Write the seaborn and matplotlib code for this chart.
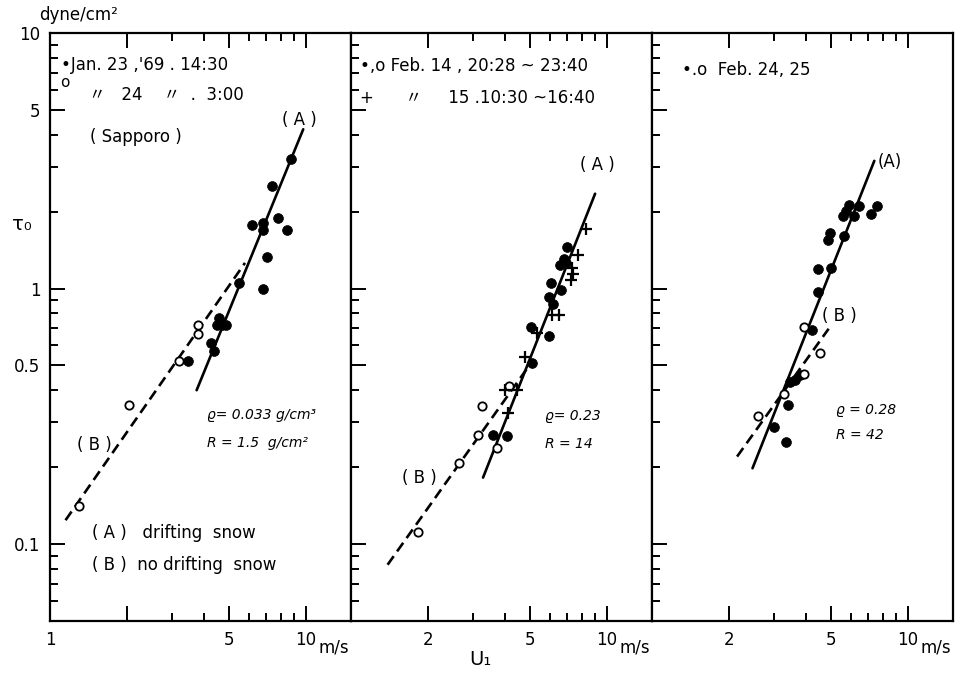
import matplotlib
matplotlib.use("Agg")
import matplotlib.pyplot as plt
from matplotlib.ticker import FixedLocator, FixedFormatter, NullFormatter
import seaborn as sns

# ---- data (U1 in m/s, tau0 in dyne/cm2) ----
# panel 1: Jan. 23-24 '69, Sapporo
p1_fill_u = [8.71, 7.34, 6.17, 6.81, 6.81, 7.79, 8.41, 7.02, 5.47, 6.77, 4.57, 4.69, 4.48, 4.87, 4.25, 4.36, 3.45]
p1_fill_tau = [3.21, 2.51, 1.77, 1.80, 1.70, 1.88, 1.70, 1.33, 1.05, 1.00, 0.77, 0.72, 0.72, 0.72, 0.61, 0.57, 0.52]
p1_open_u = [3.19, 3.78, 3.78, 2.04, 1.30]
p1_open_tau = [0.52, 0.72, 0.665, 0.35, 0.141]
p1_lineA_u, p1_lineA_tau = [3.74, 9.76], [0.40, 4.2]
p1_lineB_u, p1_lineB_tau = [1.15, 5.78], [0.124, 1.26]

# panel 2: Feb. 14-15
p2_fill_u = [6.99, 6.78, 6.58, 6.90, 6.02, 6.64, 5.94, 6.17, 5.05, 5.94, 5.09, 3.59, 4.06]
p2_fill_tau = [1.45, 1.30, 1.24, 1.26, 1.05, 0.99, 0.93, 0.87, 0.71, 0.65, 0.51, 0.267, 0.264]
p2_plus_u = [8.30, 7.68, 7.31, 7.37, 7.24, 6.48, 6.12, 5.35, 4.78, 3.98, 4.46, 4.10]
p2_plus_tau = [1.71, 1.35, 1.20, 1.14, 1.08, 0.79, 0.79, 0.67, 0.54, 0.40, 0.40, 0.327]
p2_open_u = [4.16, 3.25, 3.14, 3.73, 2.64, 1.83]
p2_open_tau = [0.415, 0.347, 0.267, 0.237, 0.207, 0.111]
p2_lineA_u, p2_lineA_tau = [3.28, 8.99], [0.182, 2.35]
p2_lineB_u, p2_lineB_tau = [1.39, 4.90], [0.083, 0.49]

# panel 3: Feb. 24-25
p3_fill_u = [7.54, 7.17, 6.45, 5.90, 5.72, 5.56, 6.14, 5.64, 4.96, 4.86, 5.00, 4.44, 4.47,
             4.21, 3.80, 3.63, 3.47, 3.39, 3.01, 3.34]
p3_fill_tau = [2.10, 1.95, 2.11, 2.13, 2.02, 1.93, 1.93, 1.61, 1.65, 1.55, 1.20, 1.19, 0.967,
               0.687, 0.457, 0.437, 0.431, 0.349, 0.288, 0.250]
p3_open_u = [3.94, 4.53, 3.94, 3.27, 2.59]
p3_open_tau = [0.708, 0.561, 0.462, 0.388, 0.317]
p3_lineA_u, p3_lineA_tau = [2.47, 7.39], [0.198, 3.16]
p3_lineB_u, p3_lineB_tau = [2.15, 4.90], [0.220, 0.696]

x_major = [1, 2, 5, 10]
x_minor = [3, 4, 6, 7, 8, 9]
y_major = [0.1, 0.5, 1, 5, 10]
y_minor = [0.06, 0.07, 0.08, 0.09, 0.2, 0.3, 0.4, 0.6, 0.7, 0.8, 0.9, 2, 3, 4, 6, 7, 8, 9]
y_labels = ["0.1", "0.5", "1", "5", "10"]

sns.set_style("ticks")
plt.rcParams['font.family'] = ['DejaVu Sans', 'Noto Sans CJK JP']
plt.rcParams['text.color'] = 'black'
plt.rcParams['xtick.labelcolor'] = 'black'
plt.rcParams['ytick.labelcolor'] = 'black'

fig = plt.figure(figsize=(9.68, 6.81), dpi=100)
left, right, bottom, top = 50 / 968, 953 / 968, 1 - 621 / 681, 1 - 33 / 681
w = (right - left) / 3
axes = [fig.add_axes([left + i * w, bottom, w, top - bottom]) for i in range(3)]

FS = 12
DASH = (4, 2.2)


def style_axis(ax, i):
    ax.set_xscale('log')
    ax.set_yscale('log')
    ax.set_xlim(1, 15)
    ax.set_ylim(0.05, 10)
    ax.xaxis.set_major_locator(FixedLocator(x_major))
    ax.xaxis.set_minor_locator(FixedLocator(x_minor))
    xl = ["1", "", "5", "10"] if i == 0 else ["", "2", "5", "10"]
    ax.xaxis.set_major_formatter(FixedFormatter(xl))
    ax.xaxis.set_minor_formatter(NullFormatter())
    ax.yaxis.set_major_locator(FixedLocator(y_major))
    ax.yaxis.set_minor_locator(FixedLocator(y_minor))
    ax.yaxis.set_major_formatter(FixedFormatter(y_labels))
    ax.yaxis.set_minor_formatter(NullFormatter())
    ax.tick_params(which='both', direction='in', top=True, right=False,
                   width=1.4, labelsize=FS, pad=7, color='black', labelcolor='black')
    ax.tick_params(which='major', length=11)
    ax.tick_params(which='minor', length=6)
    if i > 0:
        ax.tick_params(axis='y', which='both', labelleft=False)
    for s in ax.spines.values():
        s.set_visible(True)
        s.set_linewidth(1.6)
        s.set_color('black')
    ax.set_xlabel('')
    ax.set_ylabel('')
    ax.text(12.9, -0.03, "m/s", transform=ax.get_xaxis_transform(),
            ha='center', va='top', fontsize=FS)


def draw_panel(ax, fill_u, fill_tau, open_u, open_tau, lineA, lineB, plus=None):
    sns.lineplot(x=lineA[0], y=lineA[1], ax=ax, color='black', lw=1.9, sort=False)
    sns.lineplot(x=lineB[0], y=lineB[1], ax=ax, color='black', lw=1.9, sort=False,
                 dashes=False, linestyle=(0, DASH))
    sns.scatterplot(x=fill_u, y=fill_tau, ax=ax, color='black', s=50,
                    edgecolor='black', linewidth=0.5, zorder=3)
    sns.scatterplot(x=open_u, y=open_tau, ax=ax, color='white', s=36,
                    edgecolor='black', linewidth=1.3, zorder=3)
    if plus is not None:
        sns.scatterplot(x=plus[0], y=plus[1], ax=ax, color='black', marker='+',
                        s=70, linewidth=1.6, zorder=3)


draw_panel(axes[0], p1_fill_u, p1_fill_tau, p1_open_u, p1_open_tau,
           (p1_lineA_u, p1_lineA_tau), (p1_lineB_u, p1_lineB_tau))
draw_panel(axes[1], p2_fill_u, p2_fill_tau, p2_open_u, p2_open_tau,
           (p2_lineA_u, p2_lineA_tau), (p2_lineB_u, p2_lineB_tau),
           plus=(p2_plus_u, p2_plus_tau))
draw_panel(axes[2], p3_fill_u, p3_fill_tau, p3_open_u, p3_open_tau,
           (p3_lineA_u, p3_lineA_tau), (p3_lineB_u, p3_lineB_tau))

for i, ax in enumerate(axes):
    style_axis(ax, i)

# ---- panel annotations ----
a0, a1, a2 = axes
hand = dict(fontsize=10, style='italic', ha='left', va='center')

a0.text(0.035, 0.946, "•Jan. 23 ,'69 . 14:30", transform=a0.transAxes, fontsize=FS, va='center')
a0.text(0.035, 0.916, "o", transform=a0.transAxes, fontsize=11, va='center')
a0.text(0.13, 0.895, "〃   24    〃  .  3:00", transform=a0.transAxes, fontsize=FS, va='center')
a0.text(0.133, 0.823, "( Sapporo )", transform=a0.transAxes, fontsize=FS, va='center')
a0.text(0.83, 0.852, "( A )", transform=a0.transAxes, fontsize=FS, ha='center', va='center')
a0.text(0.146, 0.299, "( B )", transform=a0.transAxes, fontsize=FS, ha='center', va='center')
a0.text(0.52, 0.350, "ϱ= 0.033 g/cm³", transform=a0.transAxes, **hand)
a0.text(0.52, 0.303, "R = 1.5  g/cm²", transform=a0.transAxes, **hand)
a0.text(0.14, 0.150, "( A )   drifting  snow", transform=a0.transAxes, fontsize=FS, va='center')
a0.text(0.14, 0.095, "( B )  no drifting  snow", transform=a0.transAxes, fontsize=FS, va='center')

a1.text(0.03, 0.944, "•,o Feb. 14 , 20:28 ~ 23:40", transform=a1.transAxes, fontsize=FS, va='center')
a1.text(0.03, 0.889, "+      〃     15 .10:30 ~16:40", transform=a1.transAxes, fontsize=FS, va='center')
a1.text(0.817, 0.776, "( A )", transform=a1.transAxes, fontsize=FS, ha='center', va='center')
a1.text(0.226, 0.243, "( B )", transform=a1.transAxes, fontsize=FS, ha='center', va='center')
a1.text(0.645, 0.349, "ϱ= 0.23", transform=a1.transAxes, **hand)
a1.text(0.645, 0.301, "R = 14", transform=a1.transAxes, **hand)

a2.text(0.10, 0.937, "•.o  Feb. 24, 25", transform=a2.transAxes, fontsize=FS, va='center')
a2.text(0.79, 0.781, "(A)", transform=a2.transAxes, fontsize=FS, ha='center', va='center')
a2.text(0.623, 0.519, "( B )", transform=a2.transAxes, fontsize=FS, ha='center', va='center')
a2.text(0.61, 0.359, "ϱ = 0.28", transform=a2.transAxes, **hand)
a2.text(0.61, 0.316, "R = 42", transform=a2.transAxes, **hand)

# axis titles
fig.text(0.081, 0.978, "dyne/cm²", fontsize=FS, ha='center', va='center')
fig.text(0.023, 0.67, "τ₀", fontsize=14, ha='center', va='center')
fig.text(0.496, 0.031, "U₁", fontsize=14, ha='center', va='center')

fig.savefig("out.png", dpi=100)
